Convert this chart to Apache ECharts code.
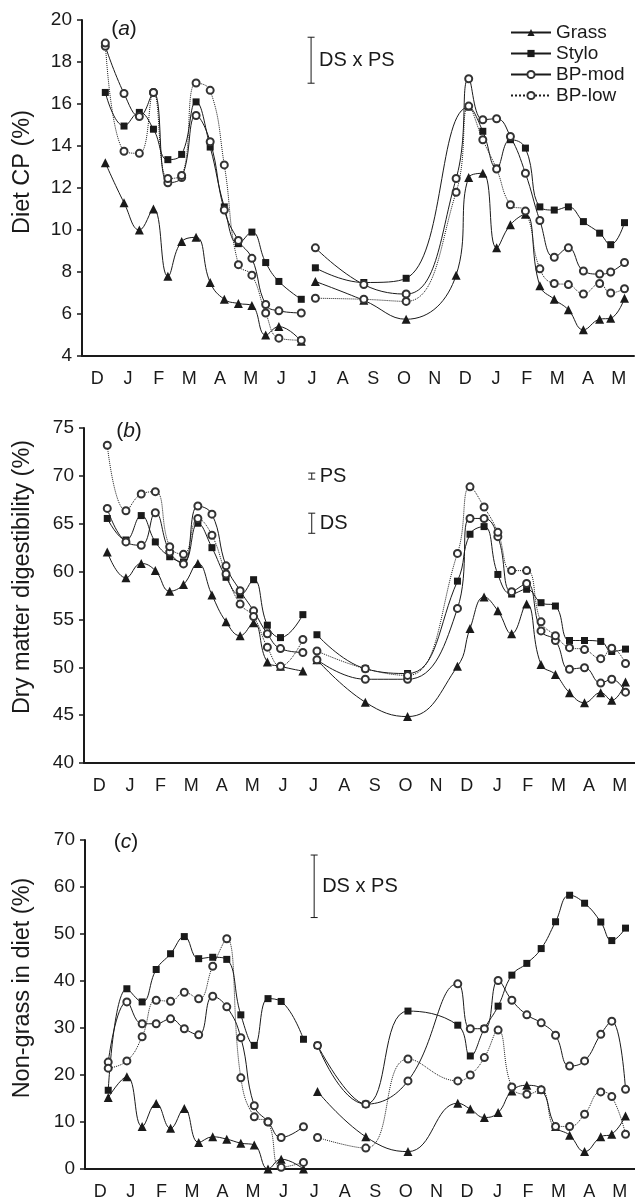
<!DOCTYPE html>
<html>
<head>
<meta charset="utf-8">
<script src="https://cdn.jsdelivr.net/npm/echarts@6/dist/echarts.min.js"></script>
<style>
  html, body { margin: 0; padding: 0; background: #fff; }
  #chart { width: 635px; height: 1201px; }
</style>
</head>
<body>
<div id="chart"></div>
<script>
// month labels, Dec to May of the following year
const months = ['D', 'J', 'F', 'M', 'A', 'M', 'J', 'J', 'A', 'S', 'O', 'N', 'D', 'J', 'F', 'M', 'A', 'M']

// sampling dates, in months since 1 Dec (first and second sampling runs)
const datesL = [0.76, 1.37, 1.87, 2.33, 2.80, 3.25, 3.72, 4.18, 4.64, 5.10, 5.54, 5.99, 6.42, 7.15]
const datesR = [7.61, 9.19, 10.57, 12.20, 12.61, 13.07, 13.52, 13.97, 14.46, 14.93, 15.40, 15.86, 16.35, 16.88, 17.24, 17.69]

// (a) diet CP %
const grassA_L = [13.2, 11.3, 10.0, 11.0, 7.8, 9.45, 9.65, 7.5, 6.7, 6.5, 6.4, 5.0, 5.4, 4.7]
const grassA_R = [7.55, 6.65, 5.75, 7.85, 12.5, 12.7, 9.15, 10.25, 10.75, 7.35, 6.7, 6.2, 5.25, 5.75, 5.8, 6.75]
const styloA_L = [16.55, 14.95, 15.6, 14.8, 13.35, 13.6, 16.1, 13.95, 11.1, 9.35, 9.9, 8.45, 7.55, 6.7]
const styloA_R = [8.2, 7.5, 7.7, null, 15.85, 14.7, 12.95, 14.3, 13.9, 11.1, 10.95, 11.1, 10.4, 9.85, 9.3, 10.35]
const bpModA_L = [18.75, 16.5, 15.4, 16.55, 12.25, 12.5, 15.45, 14.2, 10.95, 9.5, 8.65, 6.45, 6.15, 6.05]
const bpModA_R = [9.15, 7.4, 6.95, 12.45, 17.2, 15.25, 15.3, 14.45, 12.7, 10.45, 8.7, 9.15, 8.05, 7.9, 8.0, 8.45]
const bpLowA_L = [18.9, 13.75, 13.65, 16.55, 12.45, 12.6, 17.0, 16.65, 13.1, 8.35, 7.85, 6.05, 4.85, 4.75]
const bpLowA_R = [6.75, 6.7, 6.6, 11.8, 15.9, 14.3, 12.9, 11.2, 10.9, 8.15, 7.45, 7.4, 6.95, 7.45, 7.0, 7.2]

// (b) dry matter digestibility %
const grassB_L = [62.05, 59.35, 60.85, 60.1, 57.95, 58.65, 60.85, 57.55, 54.75, 53.3, 54.65, 50.55, 50.1, 49.6]
const grassB_R = [50.8, 46.35, 44.85, 50.1, 54.05, 57.35, 55.9, 53.5, 56.6, 50.3, 49.25, 47.35, 46.3, 47.35, 46.55, 48.45]
const styloB_L = [65.55, 63.3, 65.85, 63.1, 61.55, 61.0, 65.05, 62.5, 59.4, 57.55, 59.15, 54.4, 53.1, 55.5]
const styloB_R = [53.4, 49.85, 49.35, 59.0, 63.9, 64.7, 59.7, 57.65, 58.15, 56.75, 56.4, 52.8, 52.8, 52.7, 51.65, 51.9]
const bpModB_L = [66.6, 63.1, 62.75, 66.15, 62.05, 60.8, 66.85, 66.0, 60.6, 58.0, 55.9, 53.5, 51.95, 51.55]
const bpModB_R = [50.8, 48.75, 48.75, 56.15, 65.55, 65.55, 63.65, 57.9, 58.75, 53.8, 52.8, 49.8, 49.95, 48.35, 48.75, 47.4]
const bpLowB_L = [73.2, 66.35, 68.1, 68.35, 62.6, 61.8, 65.55, 63.8, 59.75, 56.6, 55.3, 52.1, 50.1, 52.9]
const bpLowB_R = [51.7, 49.85, 49.15, 61.9, 68.85, 66.75, 64.1, 60.1, 60.1, 54.75, 53.3, 52.05, 51.85, 50.9, 52.0, 50.4]

// (c) non-grass in diet %
const grassC_L = [15.2, 19.65, 9.05, 13.95, 8.65, 12.85, 5.65, 6.85, 6.35, 5.5, 5.1, 0, 2.1, 0]
const grassC_R = [16.5, 6.85, 3.7, 14.0, 12.75, 10.95, 12.0, 16.6, 17.8, 16.95, 9.05, 7.2, 3.7, 6.85, 7.4, 11.3]
const styloC_L = [16.75, 38.35, 35.55, 42.45, 45.8, 49.45, 44.75, 45.05, 44.6, 32.8, 26.3, 36.25, 35.65, 27.6]
const styloC_R = [26.3, 13.8, 33.6, 30.6, 24.05, 29.85, 34.65, 41.25, 43.75, 46.9, 52.6, 58.25, 56.55, 52.55, 48.6, 51.25]
const bpModC_L = [22.75, 35.55, 30.9, 30.9, 31.95, 29.85, 28.55, 36.75, 34.5, 27.95, 13.45, 10.05, 6.7, 9.0]
const bpModC_R = [26.3, 13.8, 18.75, 39.4, 29.85, 29.85, 40.1, 35.9, 32.8, 31.1, 28.45, 21.9, 23.0, 28.65, 31.45, 16.95]
const bpLowC_L = [21.45, 23.0, 28.15, 35.9, 35.7, 37.6, 36.2, 43.15, 49.0, 19.4, 11.1, 10.0, 0.35, 1.4]
const bpLowC_R = [6.7, 4.45, 23.4, 18.75, 20.0, 23.7, 29.55, 17.45, 15.9, 16.85, 9.05, 9.05, 11.65, 16.4, 15.4, 7.4]

// significance bars: [date, low, high, label]
const barsA = [[7.47, 16.99, 19.18, 'DS x PS']]
const barsB = [[7.44, 69.66, 70.29, 'PS'], [7.44, 64.0, 66.1, 'DS']]
const barsC = [[7.5, 53.5, 66.8, 'DS x PS']]

const names = ['Grass', 'Stylo', 'BP-mod', 'BP-low']
const font = '"Liberation Sans", Arial, Helvetica, sans-serif'
const ink = '#1a1a1a'

const pair = (dates, vals) => dates.map((d, i) => [d, vals[i]]).filter(p => p[1] != null)
const joined = (l, r) => [...pair(datesL, l), [7.38, '-'], ...pair(datesR, r)]

const looks = {
  'Grass': { symbol: 'triangle', symbolSize: 9, dash: 'solid' },
  'Stylo': { symbol: 'rect', symbolSize: 7, dash: 'solid' },
  'BP-mod': { symbol: 'emptyCircle', symbolSize: 7, dash: 'solid' },
  'BP-low': { symbol: 'emptyCircle', symbolSize: 7, dash: 'dotted' }
}

const lineSeries = (gi, name, l, r) => ({
  type: 'line',
  name,
  xAxisIndex: gi * 2 + 1,
  yAxisIndex: gi,
  data: joined(l, r),
  smooth: 0.45,
  connectNulls: false,
  showAllSymbol: true,
  symbol: looks[name].symbol,
  symbolSize: looks[name].symbolSize,
  z: name.startsWith('BP') ? 4 : 3,
  lineStyle: { color: ink, width: 1, type: looks[name].dash },
  itemStyle: { color: name.startsWith('BP') ? '#333' : ink, borderWidth: 0.8 }
})

const barSeries = (gi, bars) => ({
  type: 'custom',
  xAxisIndex: gi * 2 + 1,
  yAxisIndex: gi,
  silent: true,
  data: bars.map(b => [b[0], b[1], b[2]]),
  renderItem: (params, api) => {
    const lo = api.coord([api.value(0), api.value(1)])
    const hi = api.coord([api.value(0), api.value(2)])
    const s = { stroke: ink, lineWidth: 1 }
    const cap = 3.5
    return {
      type: 'group',
      children: [
        { type: 'line', shape: { x1: lo[0], y1: lo[1], x2: hi[0], y2: hi[1] }, style: s },
        { type: 'line', shape: { x1: lo[0] - cap, y1: lo[1], x2: lo[0] + cap, y2: lo[1] }, style: s },
        { type: 'line', shape: { x1: hi[0] - cap, y1: hi[1], x2: hi[0] + cap, y2: hi[1] }, style: s },
        {
          type: 'text', x: lo[0] + 8, y: (lo[1] + hi[1]) / 2,
          style: { text: bars[params.dataIndex][3], fontSize: 20, fontFamily: font, fill: ink, verticalAlign: 'middle', align: 'left' }
        }
      ]
    }
  }
})

const grids = [
  { left: 82, top: 20, width: 552, height: 336 },
  { left: 84, top: 428, width: 555, height: 335 },
  { left: 85, top: 840, width: 557, height: 330 }
]

const xAxes = []
grids.forEach((g, gi) => {
  xAxes.push({
    type: 'category', gridIndex: gi, data: months, boundaryGap: true,
    axisLine: { onZero: false, lineStyle: { color: ink, width: 2 } },
    axisTick: { inside: true, length: 5, lineStyle: { color: ink, width: 1.5 } },
    axisLabel: { color: ink, fontSize: 18, fontFamily: font, margin: 14 },
    splitLine: { show: false }
  })
  xAxes.push({ type: 'value', gridIndex: gi, min: 0, max: 18, show: false })
})

const yAx = (gi, min, max, interval) => ({
  type: 'value', gridIndex: gi, min, max, interval,
  axisLine: { show: true, onZero: false, lineStyle: { color: ink, width: 2 } },
  axisTick: { show: true, length: 5, lineStyle: { color: ink, width: 1.5 } },
  axisLabel: { color: ink, fontSize: 19, fontFamily: font, margin: 10 },
  splitLine: { show: false }
})

const panelSets = [
  [[grassA_L, grassA_R], [styloA_L, styloA_R], [bpModA_L, bpModA_R], [bpLowA_L, bpLowA_R]],
  [[grassB_L, grassB_R], [styloB_L, styloB_R], [bpModB_L, bpModB_R], [bpLowB_L, bpLowB_R]],
  [[grassC_L, grassC_R], [styloC_L, styloC_R], [bpModC_L, bpModC_R], [bpLowC_L, bpLowC_R]]
]

const series = []
panelSets.forEach((sets, gi) => {
  sets.forEach((lr, k) => series.push(lineSeries(gi, names[k], lr[0], lr[1])))
})
series.push(barSeries(0, barsA), barSeries(1, barsB), barSeries(2, barsC))

// axis titles and panel letters
const yTitle = (text, x, y) => ({
  type: 'text', x, y, rotation: Math.PI / 2,
  style: { text, fontSize: 23.5, fontFamily: font, fill: ink, align: 'center', verticalAlign: 'middle' }
})
const panelTag = (letter, x, y) => ({
  type: 'text', x, y,
  style: {
    text: '{n|(}{i|' + letter + '}{n|)}',
    align: 'center', verticalAlign: 'middle',
    rich: {
      n: { fontSize: 21, fontFamily: font, fill: ink },
      i: { fontSize: 21, fontFamily: font, fontStyle: 'italic', fill: ink }
    }
  }
})

const chart = echarts.init(document.getElementById('chart'))
chart.setOption({
  animation: false,
  backgroundColor: '#fff',
  textStyle: { fontFamily: font },
  grid: grids,
  xAxis: xAxes,
  yAxis: [yAx(0, 4, 20, 2), yAx(1, 40, 75, 5), yAx(2, 0, 70, 10)],
  legend: {
    data: names, orient: 'vertical', left: 505, top: 18,
    itemWidth: 40, itemHeight: 9, itemGap: 2, selectedMode: false,
    textStyle: { fontSize: 19, color: ink, fontFamily: font }
  },
  graphic: [
    yTitle('Diet CP (%)', 23, 172),
    yTitle('Dry matter digestibility (%)', 23, 577),
    yTitle('Non-grass in diet (%)', 23, 988),
    panelTag('a', 124, 29),
    panelTag('b', 129, 431),
    panelTag('c', 126, 842)
  ],
  series
})
</script>
</body>
</html>
